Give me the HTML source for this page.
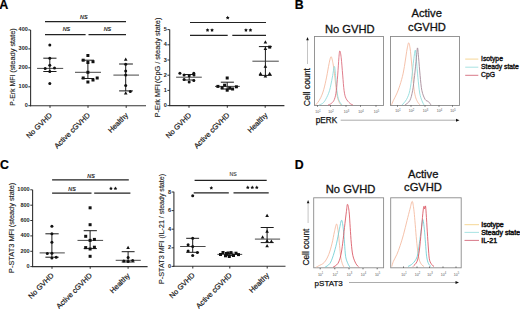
<!DOCTYPE html>
<html><head><meta charset="utf-8"><style>
html,body{margin:0;padding:0;background:#fff;}
svg{display:block;font-family:"Liberation Sans", sans-serif;}
</style></head><body>
<svg width="520" height="309" viewBox="0 0 520 309">
<rect width="520" height="309" fill="#fff"/>
<text x="-0.80" y="8.80" font-size="12.5" text-anchor="start" font-weight="bold" font-style="normal" fill="#000" stroke="#000" stroke-width="0.2" >A</text>
<line x1="30.60" y1="29.90" x2="30.60" y2="106.20" stroke="#333" stroke-width="1.1" />
<line x1="30.00" y1="105.70" x2="146.00" y2="105.70" stroke="#333" stroke-width="1.1" />
<line x1="28.30" y1="29.90" x2="30.50" y2="29.90" stroke="#1a1a1a" stroke-width="0.9" />
<text x="27.80" y="31.40" font-size="5.5" text-anchor="end" font-weight="bold" font-style="normal" fill="#222" >400</text>
<line x1="28.30" y1="48.90" x2="30.50" y2="48.90" stroke="#1a1a1a" stroke-width="0.9" />
<text x="27.80" y="50.40" font-size="5.5" text-anchor="end" font-weight="bold" font-style="normal" fill="#222" >300</text>
<line x1="28.30" y1="67.80" x2="30.50" y2="67.80" stroke="#1a1a1a" stroke-width="0.9" />
<text x="27.80" y="69.30" font-size="5.5" text-anchor="end" font-weight="bold" font-style="normal" fill="#222" >200</text>
<line x1="28.30" y1="86.80" x2="30.50" y2="86.80" stroke="#1a1a1a" stroke-width="0.9" />
<text x="27.80" y="88.30" font-size="5.5" text-anchor="end" font-weight="bold" font-style="normal" fill="#222" >100</text>
<line x1="28.30" y1="105.70" x2="30.50" y2="105.70" stroke="#1a1a1a" stroke-width="0.9" />
<text x="27.80" y="107.20" font-size="5.5" text-anchor="end" font-weight="bold" font-style="normal" fill="#222" >0</text>
<line x1="50.00" y1="105.70" x2="50.00" y2="107.90" stroke="#1a1a1a" stroke-width="0.9" />
<line x1="88.00" y1="105.70" x2="88.00" y2="107.90" stroke="#1a1a1a" stroke-width="0.9" />
<line x1="126.20" y1="105.70" x2="126.20" y2="107.90" stroke="#1a1a1a" stroke-width="0.9" />
<text x="14.60" y="105.80" font-size="7.1" text-anchor="start" font-weight="normal" font-style="normal" fill="#222" stroke="#222" stroke-width="0.12" transform="rotate(-90 14.60 105.80)" textLength="31.2" lengthAdjust="spacingAndGlyphs" >P-Erk MFI</text>
<text x="14.60" y="72.80" font-size="7.1" text-anchor="start" font-weight="normal" font-style="normal" fill="#222" stroke="#222" stroke-width="0.12" transform="rotate(-90 14.60 72.80)" textLength="44.6" lengthAdjust="spacingAndGlyphs" >(steady state)</text>
<line x1="45.00" y1="21.60" x2="126.00" y2="21.60" stroke="#222" stroke-width="1.2" />
<line x1="45.00" y1="34.60" x2="85.60" y2="34.60" stroke="#222" stroke-width="1.2" />
<line x1="88.50" y1="34.60" x2="126.00" y2="34.60" stroke="#222" stroke-width="1.2" />
<text x="83.75" y="18.70" font-size="5.4" text-anchor="middle" font-weight="normal" font-style="italic" fill="#222" stroke="#222" stroke-width="0.2" >NS</text>
<text x="66.40" y="31.20" font-size="5.4" text-anchor="middle" font-weight="normal" font-style="italic" fill="#222" stroke="#222" stroke-width="0.2" >NS</text>
<text x="107.40" y="31.20" font-size="5.4" text-anchor="middle" font-weight="normal" font-style="italic" fill="#222" stroke="#222" stroke-width="0.2" >NS</text>
<line x1="49.80" y1="58.20" x2="49.80" y2="71.50" stroke="#1a1a1a" stroke-width="1.0" />
<line x1="43.30" y1="58.20" x2="56.50" y2="58.20" stroke="#1a1a1a" stroke-width="1.0" />
<line x1="43.30" y1="71.50" x2="56.50" y2="71.50" stroke="#1a1a1a" stroke-width="1.0" />
<line x1="37.10" y1="68.40" x2="63.20" y2="68.40" stroke="#333" stroke-width="0.9" />
<circle cx="49.80" cy="45.00" r="1.5" fill="#111"/>
<circle cx="49.80" cy="58.20" r="1.5" fill="#111"/>
<circle cx="49.80" cy="65.20" r="1.5" fill="#111"/>
<circle cx="45.20" cy="68.40" r="1.5" fill="#111"/>
<circle cx="54.50" cy="68.00" r="1.5" fill="#111"/>
<circle cx="49.80" cy="71.50" r="1.5" fill="#111"/>
<circle cx="49.80" cy="83.50" r="1.5" fill="#111"/>
<line x1="87.90" y1="60.20" x2="87.90" y2="78.50" stroke="#1a1a1a" stroke-width="1.0" />
<line x1="81.60" y1="60.20" x2="94.00" y2="60.20" stroke="#1a1a1a" stroke-width="1.0" />
<line x1="81.60" y1="78.50" x2="94.00" y2="78.50" stroke="#1a1a1a" stroke-width="1.0" />
<line x1="75.00" y1="72.30" x2="101.00" y2="72.30" stroke="#333" stroke-width="0.9" />
<rect x="86.40" y="54.00" width="3.00" height="3.00" fill="#111"/>
<rect x="81.70" y="58.70" width="3.00" height="3.00" fill="#111"/>
<rect x="86.40" y="61.00" width="3.00" height="3.00" fill="#111"/>
<rect x="91.50" y="60.20" width="3.00" height="3.00" fill="#111"/>
<rect x="86.40" y="70.80" width="3.00" height="3.00" fill="#111"/>
<rect x="81.70" y="76.50" width="3.00" height="3.00" fill="#111"/>
<rect x="86.40" y="80.50" width="3.00" height="3.00" fill="#111"/>
<rect x="91.50" y="78.50" width="3.00" height="3.00" fill="#111"/>
<rect x="95.70" y="76.50" width="3.00" height="3.00" fill="#111"/>
<line x1="125.70" y1="64.00" x2="125.70" y2="90.90" stroke="#1a1a1a" stroke-width="1.0" />
<line x1="119.10" y1="64.00" x2="132.90" y2="64.00" stroke="#1a1a1a" stroke-width="1.0" />
<line x1="119.10" y1="90.90" x2="132.90" y2="90.90" stroke="#1a1a1a" stroke-width="1.0" />
<line x1="113.40" y1="75.10" x2="139.00" y2="75.10" stroke="#333" stroke-width="0.9" />
<polygon points="125.70,57.42 127.52,60.72 123.89,60.72" fill="#111"/>
<circle cx="125.70" cy="64.30" r="1.5" fill="#111"/>
<circle cx="125.70" cy="70.90" r="1.5" fill="#111"/>
<circle cx="125.70" cy="75.10" r="1.5" fill="#111"/>
<circle cx="125.70" cy="85.40" r="1.5" fill="#111"/>
<circle cx="130.30" cy="91.40" r="1.5" fill="#111"/>
<polygon points="125.70,91.32 127.52,94.62 123.89,94.62" fill="#111"/>
<text x="52.40" y="115.70" font-size="7.35" text-anchor="end" font-weight="normal" font-style="normal" fill="#1a1a1a" stroke="#1a1a1a" stroke-width="0.2" transform="rotate(-45 52.40 115.70)" >No GVHD</text>
<text x="90.40" y="115.70" font-size="7.35" text-anchor="end" font-weight="normal" font-style="normal" fill="#1a1a1a" stroke="#1a1a1a" stroke-width="0.2" transform="rotate(-45 90.40 115.70)" >Active cGVHD</text>
<text x="128.60" y="115.70" font-size="7.35" text-anchor="end" font-weight="normal" font-style="normal" fill="#1a1a1a" stroke="#1a1a1a" stroke-width="0.2" transform="rotate(-45 128.60 115.70)" >Healthy</text>
<line x1="169.70" y1="29.60" x2="169.70" y2="106.10" stroke="#333" stroke-width="1.1" />
<line x1="169.10" y1="105.60" x2="284.40" y2="105.60" stroke="#333" stroke-width="1.1" />
<line x1="167.40" y1="29.60" x2="169.60" y2="29.60" stroke="#1a1a1a" stroke-width="0.9" />
<text x="166.80" y="31.10" font-size="5.5" text-anchor="end" font-weight="bold" font-style="normal" fill="#222" >5</text>
<line x1="167.40" y1="44.80" x2="169.60" y2="44.80" stroke="#1a1a1a" stroke-width="0.9" />
<text x="166.80" y="46.30" font-size="5.5" text-anchor="end" font-weight="bold" font-style="normal" fill="#222" >4</text>
<line x1="167.40" y1="60.00" x2="169.60" y2="60.00" stroke="#1a1a1a" stroke-width="0.9" />
<text x="166.80" y="61.50" font-size="5.5" text-anchor="end" font-weight="bold" font-style="normal" fill="#222" >3</text>
<line x1="167.40" y1="75.20" x2="169.60" y2="75.20" stroke="#1a1a1a" stroke-width="0.9" />
<text x="166.80" y="76.70" font-size="5.5" text-anchor="end" font-weight="bold" font-style="normal" fill="#222" >2</text>
<line x1="167.40" y1="90.40" x2="169.60" y2="90.40" stroke="#1a1a1a" stroke-width="0.9" />
<text x="166.80" y="91.90" font-size="5.5" text-anchor="end" font-weight="bold" font-style="normal" fill="#222" >1</text>
<line x1="167.40" y1="105.60" x2="169.60" y2="105.60" stroke="#1a1a1a" stroke-width="0.9" />
<text x="166.80" y="107.10" font-size="5.5" text-anchor="end" font-weight="bold" font-style="normal" fill="#222" >0</text>
<line x1="189.00" y1="105.60" x2="189.00" y2="107.80" stroke="#1a1a1a" stroke-width="0.9" />
<line x1="227.30" y1="105.60" x2="227.30" y2="107.80" stroke="#1a1a1a" stroke-width="0.9" />
<line x1="265.20" y1="105.60" x2="265.20" y2="107.80" stroke="#1a1a1a" stroke-width="0.9" />
<text x="160.00" y="117.30" font-size="7.1" text-anchor="start" font-weight="normal" font-style="normal" fill="#222" stroke="#222" stroke-width="0.12" transform="rotate(-90 160.00 117.30)" textLength="33" lengthAdjust="spacingAndGlyphs" >P-Erk MFI</text>
<text x="160.00" y="83.30" font-size="7.1" text-anchor="start" font-weight="normal" font-style="normal" fill="#222" stroke="#222" stroke-width="0.12" transform="rotate(-90 160.00 83.30)" textLength="65.7" lengthAdjust="spacingAndGlyphs" >(CpG / steady state)</text>
<line x1="190.00" y1="22.50" x2="266.00" y2="22.50" stroke="#222" stroke-width="1.2" />
<line x1="190.00" y1="35.30" x2="227.70" y2="35.30" stroke="#222" stroke-width="1.2" />
<line x1="232.30" y1="35.30" x2="266.00" y2="35.30" stroke="#222" stroke-width="1.2" />
<polygon points="227.70,15.85 228.33,16.93 229.55,17.20 228.72,18.13 228.85,19.38 227.70,18.87 226.55,19.38 226.68,18.13 225.85,17.20 227.07,16.93" fill="#111"/>
<polygon points="207.55,28.25 208.18,29.33 209.40,29.60 208.57,30.53 208.70,31.78 207.55,31.27 206.40,31.78 206.53,30.53 205.70,29.60 206.92,29.33" fill="#111"/>
<polygon points="212.05,28.25 212.68,29.33 213.90,29.60 213.07,30.53 213.20,31.78 212.05,31.27 210.90,31.78 211.03,30.53 210.20,29.60 211.42,29.33" fill="#111"/>
<polygon points="245.95,28.25 246.58,29.33 247.80,29.60 246.97,30.53 247.10,31.78 245.95,31.27 244.80,31.78 244.93,30.53 244.10,29.60 245.32,29.33" fill="#111"/>
<polygon points="250.45,28.25 251.08,29.33 252.30,29.60 251.47,30.53 251.60,31.78 250.45,31.27 249.30,31.78 249.43,30.53 248.60,29.60 249.82,29.33" fill="#111"/>
<line x1="189.20" y1="74.50" x2="189.20" y2="80.00" stroke="#1a1a1a" stroke-width="1.0" />
<line x1="182.80" y1="74.50" x2="195.00" y2="74.50" stroke="#1a1a1a" stroke-width="1.0" />
<line x1="182.80" y1="80.00" x2="195.00" y2="80.00" stroke="#1a1a1a" stroke-width="1.0" />
<line x1="176.10" y1="77.20" x2="201.80" y2="77.20" stroke="#333" stroke-width="0.9" />
<circle cx="179.90" cy="73.30" r="1.5" fill="#111"/>
<circle cx="193.80" cy="73.30" r="1.5" fill="#111"/>
<circle cx="184.10" cy="75.00" r="1.5" fill="#111"/>
<circle cx="189.20" cy="75.80" r="1.5" fill="#111"/>
<circle cx="194.00" cy="75.00" r="1.5" fill="#111"/>
<circle cx="184.10" cy="79.60" r="1.5" fill="#111"/>
<circle cx="189.20" cy="82.10" r="1.5" fill="#111"/>
<circle cx="193.80" cy="80.40" r="1.5" fill="#111"/>
<line x1="227.20" y1="82.20" x2="227.20" y2="89.00" stroke="#1a1a1a" stroke-width="1.0" />
<line x1="220.80" y1="82.20" x2="233.90" y2="82.20" stroke="#1a1a1a" stroke-width="1.0" />
<line x1="220.80" y1="89.00" x2="233.90" y2="89.00" stroke="#1a1a1a" stroke-width="1.0" />
<line x1="215.00" y1="86.40" x2="239.80" y2="86.40" stroke="#333" stroke-width="0.9" />
<rect x="225.70" y="76.50" width="3.00" height="3.00" fill="#111"/>
<rect x="216.40" y="84.90" width="3.00" height="3.00" fill="#111"/>
<rect x="234.90" y="85.30" width="3.00" height="3.00" fill="#111"/>
<rect x="220.60" y="86.20" width="3.00" height="3.00" fill="#111"/>
<rect x="223.10" y="83.70" width="3.00" height="3.00" fill="#111"/>
<rect x="228.20" y="86.50" width="3.00" height="3.00" fill="#111"/>
<rect x="231.10" y="87.50" width="3.00" height="3.00" fill="#111"/>
<rect x="225.70" y="88.70" width="3.00" height="3.00" fill="#111"/>
<line x1="265.40" y1="46.60" x2="265.40" y2="75.40" stroke="#1a1a1a" stroke-width="1.0" />
<line x1="258.90" y1="46.60" x2="271.80" y2="46.60" stroke="#1a1a1a" stroke-width="1.0" />
<line x1="258.90" y1="75.40" x2="271.80" y2="75.40" stroke="#1a1a1a" stroke-width="1.0" />
<line x1="252.40" y1="61.20" x2="278.80" y2="61.20" stroke="#333" stroke-width="0.9" />
<polygon points="265.40,40.32 267.21,43.62 263.58,43.62" fill="#111"/>
<polygon points="265.40,46.72 267.21,50.02 263.58,50.02" fill="#111"/>
<rect x="268.20" y="45.60" width="3.00" height="3.00" fill="#111"/>
<polygon points="265.40,64.52 267.21,67.82 263.58,67.82" fill="#111"/>
<polygon points="260.50,71.82 262.31,75.12 258.69,75.12" fill="#111"/>
<polygon points="269.70,71.82 271.51,75.12 267.88,75.12" fill="#111"/>
<polygon points="265.40,74.22 267.21,77.52 263.58,77.52" fill="#111"/>
<text x="191.80" y="115.70" font-size="7.35" text-anchor="end" font-weight="normal" font-style="normal" fill="#1a1a1a" stroke="#1a1a1a" stroke-width="0.2" transform="rotate(-45 191.80 115.70)" >No GVHD</text>
<text x="230.10" y="115.70" font-size="7.35" text-anchor="end" font-weight="normal" font-style="normal" fill="#1a1a1a" stroke="#1a1a1a" stroke-width="0.2" transform="rotate(-45 230.10 115.70)" >Active cGVHD</text>
<text x="268.00" y="115.70" font-size="7.35" text-anchor="end" font-weight="normal" font-style="normal" fill="#1a1a1a" stroke="#1a1a1a" stroke-width="0.2" transform="rotate(-45 268.00 115.70)" >Healthy</text>
<text x="0.00" y="168.60" font-size="12.3" text-anchor="start" font-weight="bold" font-style="normal" fill="#000" stroke="#000" stroke-width="0.2" >C</text>
<line x1="32.60" y1="189.80" x2="32.60" y2="267.10" stroke="#333" stroke-width="1.1" />
<line x1="32.00" y1="266.60" x2="147.60" y2="266.60" stroke="#333" stroke-width="1.1" />
<line x1="30.30" y1="189.80" x2="32.50" y2="189.80" stroke="#1a1a1a" stroke-width="0.9" />
<text x="29.60" y="191.30" font-size="5.5" text-anchor="end" font-weight="bold" font-style="normal" fill="#222" >1000</text>
<line x1="30.30" y1="205.20" x2="32.50" y2="205.20" stroke="#1a1a1a" stroke-width="0.9" />
<text x="29.60" y="206.70" font-size="5.5" text-anchor="end" font-weight="bold" font-style="normal" fill="#222" >800</text>
<line x1="30.30" y1="220.50" x2="32.50" y2="220.50" stroke="#1a1a1a" stroke-width="0.9" />
<text x="29.60" y="222.00" font-size="5.5" text-anchor="end" font-weight="bold" font-style="normal" fill="#222" >600</text>
<line x1="30.30" y1="235.90" x2="32.50" y2="235.90" stroke="#1a1a1a" stroke-width="0.9" />
<text x="29.60" y="237.40" font-size="5.5" text-anchor="end" font-weight="bold" font-style="normal" fill="#222" >400</text>
<line x1="30.30" y1="251.30" x2="32.50" y2="251.30" stroke="#1a1a1a" stroke-width="0.9" />
<text x="29.60" y="252.80" font-size="5.5" text-anchor="end" font-weight="bold" font-style="normal" fill="#222" >200</text>
<line x1="30.30" y1="266.60" x2="32.50" y2="266.60" stroke="#1a1a1a" stroke-width="0.9" />
<text x="29.60" y="268.10" font-size="5.5" text-anchor="end" font-weight="bold" font-style="normal" fill="#222" >0</text>
<line x1="52.00" y1="266.60" x2="52.00" y2="268.80" stroke="#1a1a1a" stroke-width="0.9" />
<line x1="90.20" y1="266.60" x2="90.20" y2="268.80" stroke="#1a1a1a" stroke-width="0.9" />
<line x1="128.10" y1="266.60" x2="128.10" y2="268.80" stroke="#1a1a1a" stroke-width="0.9" />
<text x="13.90" y="273.00" font-size="7.1" text-anchor="start" font-weight="normal" font-style="normal" fill="#222" stroke="#222" stroke-width="0.12" transform="rotate(-90 13.90 273.00)" textLength="44.2" lengthAdjust="spacingAndGlyphs" >P-STAT3 MFI</text>
<text x="13.90" y="227.20" font-size="7.1" text-anchor="start" font-weight="normal" font-style="normal" fill="#222" stroke="#222" stroke-width="0.12" transform="rotate(-90 13.90 227.20)" textLength="44.5" lengthAdjust="spacingAndGlyphs" >(steady state)</text>
<line x1="52.10" y1="179.90" x2="128.80" y2="179.90" stroke="#222" stroke-width="1.2" />
<line x1="52.10" y1="193.20" x2="91.50" y2="193.20" stroke="#222" stroke-width="1.2" />
<line x1="94.20" y1="193.20" x2="130.40" y2="193.20" stroke="#222" stroke-width="1.2" />
<text x="91.00" y="177.80" font-size="5.4" text-anchor="middle" font-weight="normal" font-style="italic" fill="#222" stroke="#222" stroke-width="0.2" >NS</text>
<text x="72.00" y="190.80" font-size="5.4" text-anchor="middle" font-weight="normal" font-style="italic" fill="#222" stroke="#222" stroke-width="0.2" >NS</text>
<polygon points="110.95,186.55 111.58,187.63 112.80,187.90 111.97,188.83 112.10,190.08 110.95,189.57 109.80,190.08 109.93,188.83 109.10,187.90 110.32,187.63" fill="#111"/>
<polygon points="115.45,186.55 116.08,187.63 117.30,187.90 116.47,188.83 116.60,190.08 115.45,189.57 114.30,190.08 114.43,188.83 113.60,187.90 114.82,187.63" fill="#111"/>
<line x1="51.90" y1="233.80" x2="51.90" y2="257.20" stroke="#1a1a1a" stroke-width="1.0" />
<line x1="45.40" y1="233.80" x2="58.70" y2="233.80" stroke="#1a1a1a" stroke-width="1.0" />
<line x1="45.40" y1="257.20" x2="58.70" y2="257.20" stroke="#1a1a1a" stroke-width="1.0" />
<line x1="39.60" y1="252.90" x2="64.80" y2="252.90" stroke="#333" stroke-width="0.9" />
<circle cx="51.90" cy="226.20" r="1.5" fill="#111"/>
<circle cx="51.90" cy="233.80" r="1.5" fill="#111"/>
<circle cx="51.90" cy="242.20" r="1.5" fill="#111"/>
<circle cx="47.30" cy="253.50" r="1.5" fill="#111"/>
<circle cx="51.90" cy="253.20" r="1.5" fill="#111"/>
<circle cx="51.90" cy="258.00" r="1.5" fill="#111"/>
<circle cx="56.20" cy="257.20" r="1.5" fill="#111"/>
<line x1="90.10" y1="230.70" x2="90.10" y2="248.60" stroke="#1a1a1a" stroke-width="1.0" />
<line x1="83.70" y1="230.70" x2="96.90" y2="230.70" stroke="#1a1a1a" stroke-width="1.0" />
<line x1="83.70" y1="248.60" x2="96.90" y2="248.60" stroke="#1a1a1a" stroke-width="1.0" />
<line x1="77.50" y1="240.40" x2="103.10" y2="240.40" stroke="#333" stroke-width="0.9" />
<rect x="88.60" y="206.30" width="3.00" height="3.00" fill="#111"/>
<rect x="88.60" y="223.20" width="3.00" height="3.00" fill="#111"/>
<rect x="84.20" y="234.80" width="3.00" height="3.00" fill="#111"/>
<rect x="88.60" y="238.90" width="3.00" height="3.00" fill="#111"/>
<rect x="92.90" y="237.90" width="3.00" height="3.00" fill="#111"/>
<rect x="84.20" y="246.10" width="3.00" height="3.00" fill="#111"/>
<rect x="88.60" y="247.50" width="3.00" height="3.00" fill="#111"/>
<rect x="92.90" y="245.70" width="3.00" height="3.00" fill="#111"/>
<rect x="88.60" y="254.80" width="3.00" height="3.00" fill="#111"/>
<line x1="128.10" y1="251.70" x2="128.10" y2="262.00" stroke="#1a1a1a" stroke-width="1.0" />
<line x1="121.70" y1="251.70" x2="134.60" y2="251.70" stroke="#1a1a1a" stroke-width="1.0" />
<line x1="121.70" y1="262.00" x2="134.60" y2="262.00" stroke="#1a1a1a" stroke-width="1.0" />
<line x1="115.70" y1="260.30" x2="140.80" y2="260.30" stroke="#333" stroke-width="0.9" />
<polygon points="128.10,245.72 129.91,249.02 126.28,249.02" fill="#111"/>
<circle cx="128.10" cy="257.40" r="1.5" fill="#111"/>
<circle cx="123.80" cy="261.00" r="1.5" fill="#111"/>
<circle cx="128.10" cy="261.40" r="1.5" fill="#111"/>
<circle cx="132.70" cy="260.60" r="1.5" fill="#111"/>
<text x="54.30" y="276.10" font-size="7.35" text-anchor="end" font-weight="normal" font-style="normal" fill="#1a1a1a" stroke="#1a1a1a" stroke-width="0.2" transform="rotate(-45 54.30 276.10)" >No GVHD</text>
<text x="92.50" y="276.10" font-size="7.35" text-anchor="end" font-weight="normal" font-style="normal" fill="#1a1a1a" stroke="#1a1a1a" stroke-width="0.2" transform="rotate(-45 92.50 276.10)" >Active cGVHD</text>
<text x="130.40" y="276.10" font-size="7.35" text-anchor="end" font-weight="normal" font-style="normal" fill="#1a1a1a" stroke="#1a1a1a" stroke-width="0.2" transform="rotate(-45 130.40 276.10)" >Healthy</text>
<line x1="173.90" y1="191.80" x2="173.90" y2="266.80" stroke="#333" stroke-width="1.1" />
<line x1="173.30" y1="266.30" x2="285.50" y2="266.30" stroke="#333" stroke-width="1.1" />
<line x1="171.60" y1="192.00" x2="173.80" y2="192.00" stroke="#1a1a1a" stroke-width="0.9" />
<text x="171.00" y="193.50" font-size="5.5" text-anchor="end" font-weight="bold" font-style="normal" fill="#222" >8</text>
<line x1="171.60" y1="210.60" x2="173.80" y2="210.60" stroke="#1a1a1a" stroke-width="0.9" />
<text x="171.00" y="212.10" font-size="5.5" text-anchor="end" font-weight="bold" font-style="normal" fill="#222" >6</text>
<line x1="171.60" y1="229.20" x2="173.80" y2="229.20" stroke="#1a1a1a" stroke-width="0.9" />
<text x="171.00" y="230.70" font-size="5.5" text-anchor="end" font-weight="bold" font-style="normal" fill="#222" >4</text>
<line x1="171.60" y1="247.80" x2="173.80" y2="247.80" stroke="#1a1a1a" stroke-width="0.9" />
<text x="171.00" y="249.30" font-size="5.5" text-anchor="end" font-weight="bold" font-style="normal" fill="#222" >2</text>
<line x1="171.60" y1="266.40" x2="173.80" y2="266.40" stroke="#1a1a1a" stroke-width="0.9" />
<text x="171.00" y="267.90" font-size="5.5" text-anchor="end" font-weight="bold" font-style="normal" fill="#222" >0</text>
<line x1="192.80" y1="266.30" x2="192.80" y2="268.50" stroke="#1a1a1a" stroke-width="0.9" />
<line x1="229.80" y1="266.30" x2="229.80" y2="268.50" stroke="#1a1a1a" stroke-width="0.9" />
<line x1="267.20" y1="266.30" x2="267.20" y2="268.50" stroke="#1a1a1a" stroke-width="0.9" />
<text x="164.10" y="284.10" font-size="7.1" text-anchor="start" font-weight="normal" font-style="normal" fill="#222" stroke="#222" stroke-width="0.12" transform="rotate(-90 164.10 284.10)" textLength="43.3" lengthAdjust="spacingAndGlyphs" >P-STAT3 MFI</text>
<text x="164.10" y="238.60" font-size="7.1" text-anchor="start" font-weight="normal" font-style="normal" fill="#222" stroke="#222" stroke-width="0.12" transform="rotate(-90 164.10 238.60)" textLength="64.6" lengthAdjust="spacingAndGlyphs" >(IL-21 / steady state)</text>
<line x1="194.60" y1="180.40" x2="266.70" y2="180.40" stroke="#222" stroke-width="1.2" />
<line x1="193.70" y1="192.90" x2="228.80" y2="192.90" stroke="#222" stroke-width="1.2" />
<line x1="233.50" y1="192.90" x2="268.70" y2="192.90" stroke="#222" stroke-width="1.2" />
<text x="233.00" y="176.30" font-size="5.2" text-anchor="middle" font-weight="normal" font-style="normal" fill="#333" stroke="#333" stroke-width="0.1" >NS</text>
<polygon points="211.30,186.05 211.93,187.13 213.15,187.40 212.32,188.33 212.45,189.58 211.30,189.07 210.15,189.58 210.28,188.33 209.45,187.40 210.67,187.13" fill="#111"/>
<polygon points="247.80,185.55 248.43,186.63 249.65,186.90 248.82,187.83 248.95,189.08 247.80,188.57 246.65,189.08 246.78,187.83 245.95,186.90 247.17,186.63" fill="#111"/>
<polygon points="252.30,185.55 252.93,186.63 254.15,186.90 253.32,187.83 253.45,189.08 252.30,188.57 251.15,189.08 251.28,187.83 250.45,186.90 251.67,186.63" fill="#111"/>
<polygon points="256.80,185.55 257.43,186.63 258.65,186.90 257.82,187.83 257.95,189.08 256.80,188.57 255.65,189.08 255.78,187.83 254.95,186.90 256.17,186.63" fill="#111"/>
<line x1="192.70" y1="238.30" x2="192.70" y2="252.30" stroke="#1a1a1a" stroke-width="1.0" />
<line x1="186.20" y1="238.30" x2="199.10" y2="238.30" stroke="#1a1a1a" stroke-width="1.0" />
<line x1="186.20" y1="252.30" x2="199.10" y2="252.30" stroke="#1a1a1a" stroke-width="1.0" />
<line x1="180.10" y1="246.50" x2="205.60" y2="246.50" stroke="#333" stroke-width="0.9" />
<circle cx="192.70" cy="195.80" r="1.5" fill="#111"/>
<circle cx="192.70" cy="238.30" r="1.5" fill="#111"/>
<circle cx="188.10" cy="244.80" r="1.5" fill="#111"/>
<circle cx="192.70" cy="246.50" r="1.5" fill="#111"/>
<circle cx="188.10" cy="250.90" r="1.5" fill="#111"/>
<circle cx="197.40" cy="252.50" r="1.5" fill="#111"/>
<circle cx="192.70" cy="255.40" r="1.5" fill="#111"/>
<line x1="229.30" y1="253.20" x2="229.30" y2="255.60" stroke="#1a1a1a" stroke-width="1.0" />
<line x1="225.00" y1="253.20" x2="233.60" y2="253.20" stroke="#1a1a1a" stroke-width="1.0" />
<line x1="225.00" y1="255.60" x2="233.60" y2="255.60" stroke="#1a1a1a" stroke-width="1.0" />
<line x1="217.40" y1="254.40" x2="242.20" y2="254.40" stroke="#333" stroke-width="0.9" />
<rect x="219.00" y="253.00" width="3.00" height="3.00" fill="#111"/>
<rect x="221.50" y="251.00" width="3.00" height="3.00" fill="#111"/>
<rect x="224.00" y="254.30" width="3.00" height="3.00" fill="#111"/>
<rect x="226.50" y="251.50" width="3.00" height="3.00" fill="#111"/>
<rect x="227.80" y="255.00" width="3.00" height="3.00" fill="#111"/>
<rect x="229.50" y="251.10" width="3.00" height="3.00" fill="#111"/>
<rect x="232.00" y="254.00" width="3.00" height="3.00" fill="#111"/>
<rect x="234.50" y="251.70" width="3.00" height="3.00" fill="#111"/>
<rect x="237.00" y="253.10" width="3.00" height="3.00" fill="#111"/>
<rect x="225.00" y="252.00" width="3.00" height="3.00" fill="#111"/>
<line x1="267.10" y1="227.50" x2="267.10" y2="242.60" stroke="#1a1a1a" stroke-width="1.0" />
<line x1="260.70" y1="227.50" x2="273.70" y2="227.50" stroke="#1a1a1a" stroke-width="1.0" />
<line x1="260.70" y1="242.60" x2="273.70" y2="242.60" stroke="#1a1a1a" stroke-width="1.0" />
<line x1="254.90" y1="239.10" x2="280.10" y2="239.10" stroke="#333" stroke-width="0.9" />
<polygon points="267.10,213.82 268.92,217.12 265.29,217.12" fill="#111"/>
<polygon points="267.10,229.42 268.92,232.72 265.29,232.72" fill="#111"/>
<polygon points="262.60,235.22 264.42,238.52 260.79,238.52" fill="#111"/>
<polygon points="267.10,239.02 268.92,242.32 265.29,242.32" fill="#111"/>
<polygon points="271.40,239.52 273.21,242.82 269.58,242.82" fill="#111"/>
<polygon points="267.10,243.92 268.92,247.22 265.29,247.22" fill="#111"/>
<text x="195.30" y="275.70" font-size="7.35" text-anchor="end" font-weight="normal" font-style="normal" fill="#1a1a1a" stroke="#1a1a1a" stroke-width="0.2" transform="rotate(-45 195.30 275.70)" >No GVHD</text>
<text x="232.30" y="275.70" font-size="7.35" text-anchor="end" font-weight="normal" font-style="normal" fill="#1a1a1a" stroke="#1a1a1a" stroke-width="0.2" transform="rotate(-45 232.30 275.70)" >Active cGVHD</text>
<text x="269.70" y="275.70" font-size="7.35" text-anchor="end" font-weight="normal" font-style="normal" fill="#1a1a1a" stroke="#1a1a1a" stroke-width="0.2" transform="rotate(-45 269.70 275.70)" >Healthy</text>
<text x="294.80" y="8.60" font-size="12.3" text-anchor="start" font-weight="bold" font-style="normal" fill="#000" stroke="#000" stroke-width="0.2" >B</text>
<text x="349.80" y="32.50" font-size="11.2" text-anchor="middle" font-weight="normal" font-style="normal" fill="#111" stroke="#111" stroke-width="0.3" >No GVHD</text>
<text x="426.70" y="16.80" font-size="11.2" text-anchor="middle" font-weight="normal" font-style="normal" fill="#111" stroke="#111" stroke-width="0.3" >Active</text>
<text x="427.00" y="31.00" font-size="11.2" text-anchor="middle" font-weight="normal" font-style="normal" fill="#111" stroke="#111" stroke-width="0.3" >cGVHD</text>
<rect x="314.5" y="36.5" width="69.0" height="69" fill="none" stroke="#8a8a8a" stroke-width="0.9"/>
<rect x="390.5" y="36.5" width="69.0" height="69" fill="none" stroke="#8a8a8a" stroke-width="0.9"/>
<path d="M315.50,105.00 C315.90,104.55 317.02,103.55 317.90,102.30 C318.78,101.05 319.83,99.60 320.80,97.50 C321.77,95.40 322.73,93.10 323.70,89.70 C324.67,86.30 325.70,81.47 326.60,77.10 C327.50,72.73 328.35,66.90 329.10,63.50 C329.85,60.10 330.45,56.70 331.10,56.70 C331.75,56.70 332.45,60.75 333.00,63.50 C333.55,66.25 333.95,69.65 334.40,73.20 C334.85,76.75 335.22,80.92 335.70,84.80 C336.18,88.68 336.72,93.58 337.30,96.50 C337.88,99.42 338.58,100.88 339.20,102.30 C339.82,103.72 340.70,104.55 341.00,105.00" fill="none" stroke="#f3b79c" stroke-width="0.85" stroke-linejoin="round"/>
<path d="M319.00,105.00 C319.62,104.72 321.58,104.23 322.70,103.30 C323.82,102.37 324.57,101.50 325.70,99.40 C326.83,97.30 328.38,94.42 329.50,90.70 C330.62,86.98 331.58,81.15 332.40,77.10 C333.22,73.05 333.85,66.40 334.40,66.40 C334.95,66.40 335.28,73.05 335.70,77.10 C336.12,81.15 336.47,87.15 336.90,90.70 C337.33,94.25 337.75,96.40 338.30,98.40 C338.85,100.40 339.58,101.60 340.20,102.70 C340.82,103.80 341.70,104.62 342.00,105.00" fill="none" stroke="#8adada" stroke-width="0.85" stroke-linejoin="round"/>
<path d="M328.00,105.00 C328.58,104.72 330.43,104.23 331.50,103.30 C332.57,102.37 333.60,101.50 334.40,99.40 C335.20,97.30 335.75,94.75 336.30,90.70 C336.85,86.65 337.27,80.60 337.70,75.10 C338.13,69.60 338.55,61.73 338.90,57.70 C339.25,53.67 339.42,50.90 339.80,50.90 C340.18,50.90 340.72,53.67 341.20,57.70 C341.68,61.73 342.22,69.60 342.70,75.10 C343.18,80.60 343.55,86.82 344.10,90.70 C344.65,94.58 345.03,96.30 346.00,98.40 C346.97,100.50 348.73,102.20 349.90,103.30 C351.07,104.40 352.48,104.72 353.00,105.00" fill="none" stroke="#da6676" stroke-width="0.85" stroke-linejoin="round"/>
<path d="M391.50,105.00 C391.80,104.27 392.45,102.43 393.30,100.60 C394.15,98.77 395.50,96.55 396.60,94.00 C397.70,91.45 398.80,88.77 399.90,85.30 C401.00,81.83 402.28,77.42 403.20,73.20 C404.12,68.98 404.75,64.03 405.40,60.00 C406.05,55.97 406.55,51.87 407.10,49.00 C407.65,46.13 408.18,42.80 408.70,42.80 C409.22,42.80 409.77,46.13 410.20,49.00 C410.63,51.87 410.90,55.97 411.30,60.00 C411.70,64.03 412.20,68.80 412.60,73.20 C413.00,77.60 413.25,82.57 413.70,86.40 C414.15,90.23 414.67,93.65 415.30,96.20 C415.93,98.75 416.72,100.23 417.50,101.70 C418.28,103.17 419.58,104.45 420.00,105.00" fill="none" stroke="#f3b79c" stroke-width="0.85" stroke-linejoin="round"/>
<path d="M402.00,105.00 C402.75,104.08 405.20,101.88 406.50,99.50 C407.80,97.12 408.88,94.72 409.80,90.70 C410.72,86.68 411.35,80.52 412.00,75.40 C412.65,70.28 413.15,64.22 413.70,60.00 C414.25,55.78 414.85,50.10 415.30,50.10 C415.75,50.10 415.97,55.42 416.40,60.00 C416.83,64.58 417.35,72.10 417.90,77.60 C418.45,83.10 419.03,89.17 419.70,93.00 C420.37,96.83 421.18,98.60 421.90,100.60 C422.62,102.60 423.65,104.27 424.00,105.00" fill="none" stroke="#8adada" stroke-width="0.85" stroke-linejoin="round"/>
<path d="M405.00,105.00 C405.80,104.27 408.53,102.98 409.80,100.60 C411.07,98.22 411.80,94.90 412.60,90.70 C413.40,86.50 413.97,80.88 414.60,75.40 C415.23,69.92 415.92,62.38 416.40,57.80 C416.88,53.22 417.13,47.90 417.50,47.90 C417.87,47.90 418.17,53.22 418.60,57.80 C419.03,62.38 419.55,69.92 420.10,75.40 C420.65,80.88 421.05,86.68 421.90,90.70 C422.75,94.72 424.10,97.67 425.20,99.50 C426.30,101.33 427.53,100.78 428.50,101.70 C429.47,102.62 430.58,104.45 431.00,105.00" fill="none" stroke="#a08494" stroke-width="0.85" stroke-linejoin="round"/>
<line x1="307.50" y1="39.50" x2="307.50" y2="64.00" stroke="#aaa" stroke-width="0.7" />
<polygon points="307.5,37 306.2,40.2 308.8,40.2" fill="#111"/>
<text x="309.60" y="87.20" font-size="8.6" text-anchor="middle" font-weight="normal" font-style="normal" fill="#111" stroke="#111" stroke-width="0.2" transform="rotate(-90 309.60 87.20)" textLength="38" lengthAdjust="spacingAndGlyphs" >Cell count</text>
<text x="315.80" y="123.20" font-size="8.2" text-anchor="start" font-weight="normal" font-style="normal" fill="#111" stroke="#111" stroke-width="0.25" >pERK</text>
<line x1="340.70" y1="120.20" x2="457.00" y2="120.20" stroke="#888" stroke-width="0.7" />
<polygon points="459.5,120.2 456,118.7 456,121.7" fill="#111"/>
<line x1="465.20" y1="59.10" x2="478.30" y2="59.10" stroke="#f5d38a" stroke-width="0.9" />
<text x="481.00" y="61.20" font-size="6.8" text-anchor="start" font-weight="normal" font-style="normal" fill="#111" stroke="#111" stroke-width="0.35" >Isotype</text>
<line x1="465.20" y1="67.20" x2="478.30" y2="67.20" stroke="#9fe0e0" stroke-width="0.9" />
<text x="481.00" y="69.30" font-size="6.8" text-anchor="start" font-weight="normal" font-style="normal" fill="#111" stroke="#111" stroke-width="0.35" >Steady state</text>
<line x1="465.20" y1="75.30" x2="478.30" y2="75.30" stroke="#d46a7a" stroke-width="0.9" />
<text x="481.00" y="77.40" font-size="6.8" text-anchor="start" font-weight="normal" font-style="normal" fill="#111" stroke="#111" stroke-width="0.35" >CpG</text>
<text x="294.80" y="168.70" font-size="12.3" text-anchor="start" font-weight="bold" font-style="normal" fill="#000" stroke="#000" stroke-width="0.2" >D</text>
<text x="350.60" y="193.30" font-size="11.2" text-anchor="middle" font-weight="normal" font-style="normal" fill="#111" stroke="#111" stroke-width="0.3" >No GVHD</text>
<text x="423.20" y="177.70" font-size="11.2" text-anchor="middle" font-weight="normal" font-style="normal" fill="#111" stroke="#111" stroke-width="0.3" >Active</text>
<text x="423.00" y="191.40" font-size="11.2" text-anchor="middle" font-weight="normal" font-style="normal" fill="#111" stroke="#111" stroke-width="0.3" >cGVHD</text>
<rect x="313.7" y="197.8" width="69.90000000000003" height="70" fill="none" stroke="#8a8a8a" stroke-width="0.9"/>
<rect x="390.7" y="197.8" width="70.5" height="70" fill="none" stroke="#8a8a8a" stroke-width="0.9"/>
<path d="M316.00,267.30 C316.42,267.07 317.13,266.70 318.50,265.90 C319.87,265.10 322.50,264.38 324.20,262.50 C325.90,260.62 327.38,257.82 328.70,254.60 C330.02,251.38 331.15,246.98 332.10,243.20 C333.05,239.42 333.65,235.10 334.40,231.90 C335.15,228.70 335.97,224.00 336.60,224.00 C337.23,224.00 337.70,228.32 338.20,231.90 C338.70,235.48 339.18,241.35 339.60,245.50 C340.02,249.65 340.25,253.78 340.70,256.80 C341.15,259.82 341.75,261.85 342.30,263.60 C342.85,265.35 343.72,266.68 344.00,267.30" fill="none" stroke="#f3b79c" stroke-width="0.85" stroke-linejoin="round"/>
<path d="M325.00,267.30 C325.80,266.68 328.43,265.53 329.80,263.60 C331.17,261.67 332.07,259.10 333.20,255.70 C334.33,252.30 335.58,247.53 336.60,243.20 C337.62,238.87 338.47,233.53 339.30,229.70 C340.13,225.87 340.92,220.20 341.60,220.20 C342.28,220.20 342.92,225.87 343.40,229.70 C343.88,233.53 344.12,238.68 344.50,243.20 C344.88,247.72 345.13,253.40 345.70,256.80 C346.27,260.20 347.18,261.85 347.90,263.60 C348.62,265.35 349.65,266.68 350.00,267.30" fill="none" stroke="#6ccdd3" stroke-width="0.85" stroke-linejoin="round"/>
<path d="M333.00,267.30 C333.80,266.68 336.52,265.53 337.80,263.60 C339.08,261.67 339.88,259.10 340.70,255.70 C341.52,252.30 342.07,247.92 342.70,243.20 C343.33,238.48 343.88,232.67 344.50,227.40 C345.12,222.13 345.90,215.45 346.40,211.60 C346.90,207.75 347.05,204.30 347.50,204.30 C347.95,204.30 348.65,207.75 349.10,211.60 C349.55,215.45 349.83,222.13 350.20,227.40 C350.57,232.67 350.85,238.48 351.30,243.20 C351.75,247.92 352.13,252.30 352.90,255.70 C353.67,259.10 354.88,261.67 355.90,263.60 C356.92,265.53 358.48,266.68 359.00,267.30" fill="none" stroke="#d9525f" stroke-width="0.85" stroke-linejoin="round"/>
<path d="M391.80,266.50 C392.07,265.63 392.57,263.28 393.40,261.30 C394.23,259.32 395.67,257.23 396.80,254.60 C397.93,251.97 399.07,248.90 400.20,245.50 C401.33,242.10 402.47,238.35 403.60,234.20 C404.73,230.05 405.95,224.75 407.00,220.60 C408.05,216.45 409.03,212.50 409.90,209.30 C410.77,206.10 411.55,201.40 412.20,201.40 C412.85,201.40 413.35,206.10 413.80,209.30 C414.25,212.50 414.50,216.07 414.90,220.60 C415.30,225.13 415.75,231.60 416.20,236.50 C416.65,241.40 417.07,246.05 417.60,250.00 C418.13,253.95 418.72,257.75 419.40,260.20 C420.08,262.65 420.93,263.65 421.70,264.70 C422.47,265.75 423.62,266.20 424.00,266.50" fill="none" stroke="#f3b79c" stroke-width="0.85" stroke-linejoin="round"/>
<path d="M408.00,266.50 C408.77,266.02 411.08,265.22 412.60,263.60 C414.12,261.98 415.97,260.20 417.10,256.80 C418.23,253.40 418.72,247.72 419.40,243.20 C420.08,238.68 420.63,233.65 421.20,229.70 C421.77,225.75 422.27,219.50 422.80,219.50 C423.33,219.50 423.95,225.75 424.40,229.70 C424.85,233.65 425.12,238.68 425.50,243.20 C425.88,247.72 426.20,253.40 426.70,256.80 C427.20,260.20 427.78,261.98 428.50,263.60 C429.22,265.22 430.58,266.02 431.00,266.50" fill="none" stroke="#6ccdd3" stroke-width="0.85" stroke-linejoin="round"/>
<path d="M413.00,266.50 C413.68,265.63 416.03,264.05 417.10,261.30 C418.17,258.55 418.72,254.90 419.40,250.00 C420.08,245.10 420.63,237.93 421.20,231.90 C421.77,225.87 422.37,218.03 422.80,213.80 C423.23,209.57 423.50,207.30 423.80,206.50 C424.10,205.70 424.32,209.08 424.60,209.00 C424.88,208.92 425.23,205.20 425.50,206.00 C425.77,206.80 425.90,209.48 426.20,213.80 C426.50,218.12 426.92,225.87 427.30,231.90 C427.68,237.93 428.12,245.28 428.50,250.00 C428.88,254.72 429.03,257.75 429.60,260.20 C430.17,262.65 431.17,263.65 431.90,264.70 C432.63,265.75 433.65,266.20 434.00,266.50" fill="none" stroke="#d9525f" stroke-width="0.85" stroke-linejoin="round"/>
<line x1="308.10" y1="202.50" x2="308.10" y2="223.00" stroke="#aaa" stroke-width="0.7" />
<polygon points="308.1,200 306.8,203.2 309.4,203.2" fill="#111"/>
<text x="308.80" y="247.10" font-size="8.6" text-anchor="middle" font-weight="normal" font-style="normal" fill="#111" stroke="#111" stroke-width="0.2" transform="rotate(-90 308.80 247.10)" textLength="37" lengthAdjust="spacingAndGlyphs" >Cell count</text>
<text x="314.60" y="285.70" font-size="8" text-anchor="start" font-weight="normal" font-style="normal" fill="#111" stroke="#111" stroke-width="0.25" >pSTAT3</text>
<line x1="349.00" y1="282.50" x2="456.50" y2="282.50" stroke="#888" stroke-width="0.7" />
<polygon points="459,282.5 455.5,281 455.5,284" fill="#111"/>
<line x1="464.50" y1="224.70" x2="479.00" y2="224.70" stroke="#f5d38a" stroke-width="0.9" />
<text x="481.20" y="226.80" font-size="7.0" text-anchor="start" font-weight="normal" font-style="normal" fill="#111" stroke="#111" stroke-width="0.45" >Isotype</text>
<line x1="464.50" y1="232.40" x2="479.00" y2="232.40" stroke="#9fe0e0" stroke-width="0.9" />
<text x="481.20" y="234.50" font-size="7.0" text-anchor="start" font-weight="normal" font-style="normal" fill="#111" stroke="#111" stroke-width="0.45" >Steady state</text>
<line x1="464.50" y1="240.40" x2="479.00" y2="240.40" stroke="#d46a7a" stroke-width="0.9" />
<text x="481.20" y="242.50" font-size="7.0" text-anchor="start" font-weight="normal" font-style="normal" fill="#111" stroke="#111" stroke-width="0.45" >IL-21</text>
<line x1="317.50" y1="105.40" x2="317.50" y2="106.70" stroke="#444" stroke-width="0.8" />
<text x="317.90" y="113.00" font-size="3.5" fill="#555" text-anchor="middle">10<tspan font-size="2.6" dy="-1.5">1</tspan></text>
<line x1="330.50" y1="105.40" x2="330.50" y2="106.70" stroke="#444" stroke-width="0.8" />
<text x="330.90" y="113.00" font-size="3.5" fill="#555" text-anchor="middle">10<tspan font-size="2.6" dy="-1.5">2</tspan></text>
<line x1="346.00" y1="105.40" x2="346.00" y2="106.70" stroke="#444" stroke-width="0.8" />
<text x="346.40" y="113.00" font-size="3.5" fill="#555" text-anchor="middle">10<tspan font-size="2.6" dy="-1.5">3</tspan></text>
<line x1="360.50" y1="105.40" x2="360.50" y2="106.70" stroke="#444" stroke-width="0.8" />
<text x="360.90" y="113.00" font-size="3.5" fill="#555" text-anchor="middle">10<tspan font-size="2.6" dy="-1.5">4</tspan></text>
<line x1="376.00" y1="105.40" x2="376.00" y2="106.70" stroke="#444" stroke-width="0.8" />
<text x="376.40" y="113.00" font-size="3.5" fill="#555" text-anchor="middle">10<tspan font-size="2.6" dy="-1.5">5</tspan></text>
<line x1="397.50" y1="105.40" x2="397.50" y2="106.70" stroke="#444" stroke-width="0.8" />
<text x="397.90" y="112.30" font-size="3.5" fill="#555" text-anchor="middle">10<tspan font-size="2.6" dy="-1.5">1</tspan></text>
<line x1="411.00" y1="105.40" x2="411.00" y2="106.70" stroke="#444" stroke-width="0.8" />
<text x="411.40" y="112.30" font-size="3.5" fill="#555" text-anchor="middle">10<tspan font-size="2.6" dy="-1.5">2</tspan></text>
<line x1="425.00" y1="105.40" x2="425.00" y2="106.70" stroke="#444" stroke-width="0.8" />
<text x="425.40" y="112.30" font-size="3.5" fill="#555" text-anchor="middle">10<tspan font-size="2.6" dy="-1.5">3</tspan></text>
<line x1="439.00" y1="105.40" x2="439.00" y2="106.70" stroke="#444" stroke-width="0.8" />
<text x="439.40" y="112.30" font-size="3.5" fill="#555" text-anchor="middle">10<tspan font-size="2.6" dy="-1.5">4</tspan></text>
<line x1="452.50" y1="105.40" x2="452.50" y2="106.70" stroke="#444" stroke-width="0.8" />
<text x="452.90" y="112.30" font-size="3.5" fill="#555" text-anchor="middle">10<tspan font-size="2.6" dy="-1.5">5</tspan></text>
<line x1="320.20" y1="268.00" x2="320.20" y2="269.30" stroke="#444" stroke-width="0.8" />
<text x="320.60" y="275.60" font-size="3.5" fill="#555" text-anchor="middle">10<tspan font-size="2.6" dy="-1.5">1</tspan></text>
<line x1="334.80" y1="268.00" x2="334.80" y2="269.30" stroke="#444" stroke-width="0.8" />
<text x="335.20" y="275.60" font-size="3.5" fill="#555" text-anchor="middle">10<tspan font-size="2.6" dy="-1.5">2</tspan></text>
<line x1="349.00" y1="268.00" x2="349.00" y2="269.30" stroke="#444" stroke-width="0.8" />
<text x="349.40" y="275.60" font-size="3.5" fill="#555" text-anchor="middle">10<tspan font-size="2.6" dy="-1.5">3</tspan></text>
<line x1="363.00" y1="268.00" x2="363.00" y2="269.30" stroke="#444" stroke-width="0.8" />
<text x="363.40" y="275.60" font-size="3.5" fill="#555" text-anchor="middle">10<tspan font-size="2.6" dy="-1.5">4</tspan></text>
<line x1="377.20" y1="268.00" x2="377.20" y2="269.30" stroke="#444" stroke-width="0.8" />
<text x="377.60" y="275.60" font-size="3.5" fill="#555" text-anchor="middle">10<tspan font-size="2.6" dy="-1.5">5</tspan></text>
<line x1="403.50" y1="266.50" x2="403.50" y2="267.80" stroke="#444" stroke-width="0.8" />
<text x="403.90" y="275.80" font-size="3.5" fill="#555" text-anchor="middle">10<tspan font-size="2.6" dy="-1.5">1</tspan></text>
<line x1="417.00" y1="266.50" x2="417.00" y2="267.80" stroke="#444" stroke-width="0.8" />
<text x="417.40" y="275.80" font-size="3.5" fill="#555" text-anchor="middle">10<tspan font-size="2.6" dy="-1.5">2</tspan></text>
<line x1="429.50" y1="266.50" x2="429.50" y2="267.80" stroke="#444" stroke-width="0.8" />
<text x="429.90" y="275.80" font-size="3.5" fill="#555" text-anchor="middle">10<tspan font-size="2.6" dy="-1.5">3</tspan></text>
<line x1="443.00" y1="266.50" x2="443.00" y2="267.80" stroke="#444" stroke-width="0.8" />
<text x="443.40" y="275.80" font-size="3.5" fill="#555" text-anchor="middle">10<tspan font-size="2.6" dy="-1.5">4</tspan></text>
<line x1="456.00" y1="266.50" x2="456.00" y2="267.80" stroke="#444" stroke-width="0.8" />
<text x="456.40" y="275.80" font-size="3.5" fill="#555" text-anchor="middle">10<tspan font-size="2.6" dy="-1.5">5</tspan></text>
</svg>
</body></html>
